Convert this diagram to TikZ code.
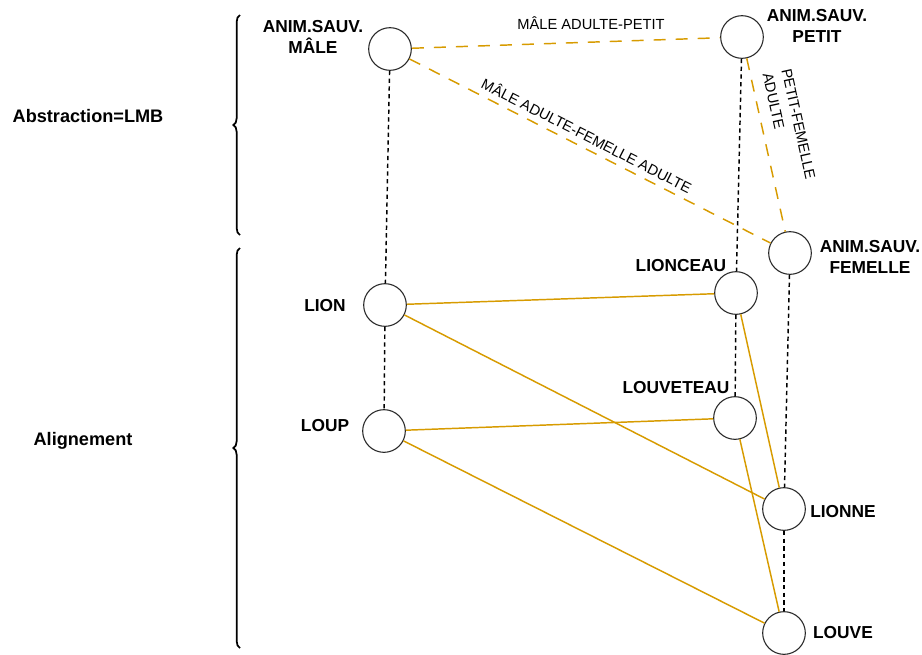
\documentclass[tikz,border=0pt]{standalone}
\usepackage{fontspec}
\setmainfont{Liberation Sans}
\usetikzlibrary{decorations.pathreplacing}
\definecolor{orng}{HTML}{D79B00}
\begin{document}
\begin{tikzpicture}[x=0.75pt,y=-0.75pt,
  cnode/.style={circle,draw=black!85,line width=0.8pt,fill=white,minimum size=32pt,inner sep=0pt},
  blab/.style={font=\fontsize{13}{16}\selectfont\bfseries,align=center,inner sep=0pt},
  sidelab/.style={font=\fontsize{13.6}{16}\selectfont\bfseries,inner sep=0pt},
  elab/.style={font=\fontsize{11}{14.5}\selectfont,inner sep=0pt},
  kdash/.style={draw=black,line width=1.1pt,dash pattern=on 3.2pt off 2.6pt},
  odash/.style={draw=orng,line width=1.1pt,dash pattern=on 9pt off 7.5pt},
  oline/.style={draw=orng,line width=1.1pt},
  bracestyle/.style={draw=black,line width=1.3pt,decorate,decoration={brace,amplitude=5pt}}]
\useasboundingbox (0,0) rectangle (922,654);

% braces
\coordinate (b1s) at (240,235);
\coordinate (b1e) at (240,15);
\coordinate (b2s) at (240,648);
\coordinate (b2e) at (240,248);
\draw[bracestyle] (b1s) -- (b1e);
\draw[bracestyle] (b2s) -- (b2e);

\node[sidelab] (tabs) at (88,116) {Abstraction=LMB};
\node[sidelab] (talign) at (83,441) {Alignement};

% circles
\node[cnode] (male) at (390,49) {};
\node[cnode] (petit) at (742,37) {};
\node[cnode] (fem) at (790,253) {};
\node[cnode] (lion) at (385,305) {};
\node[cnode] (lionceau) at (736,293) {};
\node[cnode] (louveteau) at (735,418) {};
\node[cnode] (loup) at (384,431) {};
\node[cnode] (lionne) at (784,509) {};
\node[cnode] (louve) at (784,633) {};

% connectors
\draw[kdash] (male) -- (lion);
\draw[kdash] (lion) -- (loup);
\draw[kdash] (petit) -- (lionceau);
\draw[kdash] (lionceau) -- (louveteau);
\draw[kdash] (fem) -- (lionne);
\draw[kdash] (lionne) -- (louve);

\draw[odash] (male) -- (petit);
\draw[odash] (male) -- (fem);
\draw[odash] (petit) -- (fem);

\draw[oline] (lion) -- (lionceau);
\draw[oline] (lion) -- (lionne);
\draw[oline] (loup) -- (louveteau);
\draw[oline] (loup) -- (louve);
\draw[oline] (lionceau) -- (lionne);
\draw[oline] (louveteau) -- (louve);

% node labels
\node[blab] (lmale) at (313,37) {ANIM.SAUV.\\MÂLE};
\node[blab] (lpetit) at (817,26) {ANIM.SAUV.\\PETIT};
\node[blab] (lfem) at (870,257) {ANIM.SAUV.\\FEMELLE};
\node[blab] (llionceau) at (681,266) {LIONCEAU};
\node[blab] (llouveteau) at (676,388) {LOUVETEAU};
\node[blab] (llion) at (325,306) {LION};
\node[blab] (lloup) at (325,426) {LOUP};
\node[blab] (llionne) at (843,512) {LIONNE};
\node[blab] (llouve) at (843,633) {LOUVE};

% edge labels
\node[elab] (e1) at (591,23) {MÂLE ADULTE-PETIT};
\node[elab,rotate=-27] (e2) at (587,135) {MÂLE ADULTE-FEMELLE ADULTE};
\node[elab,rotate=-77.5,align=left] (e3) at (789,126) {PETIT-FEMELLE\\ADULTE};
\end{tikzpicture}
\end{document}
